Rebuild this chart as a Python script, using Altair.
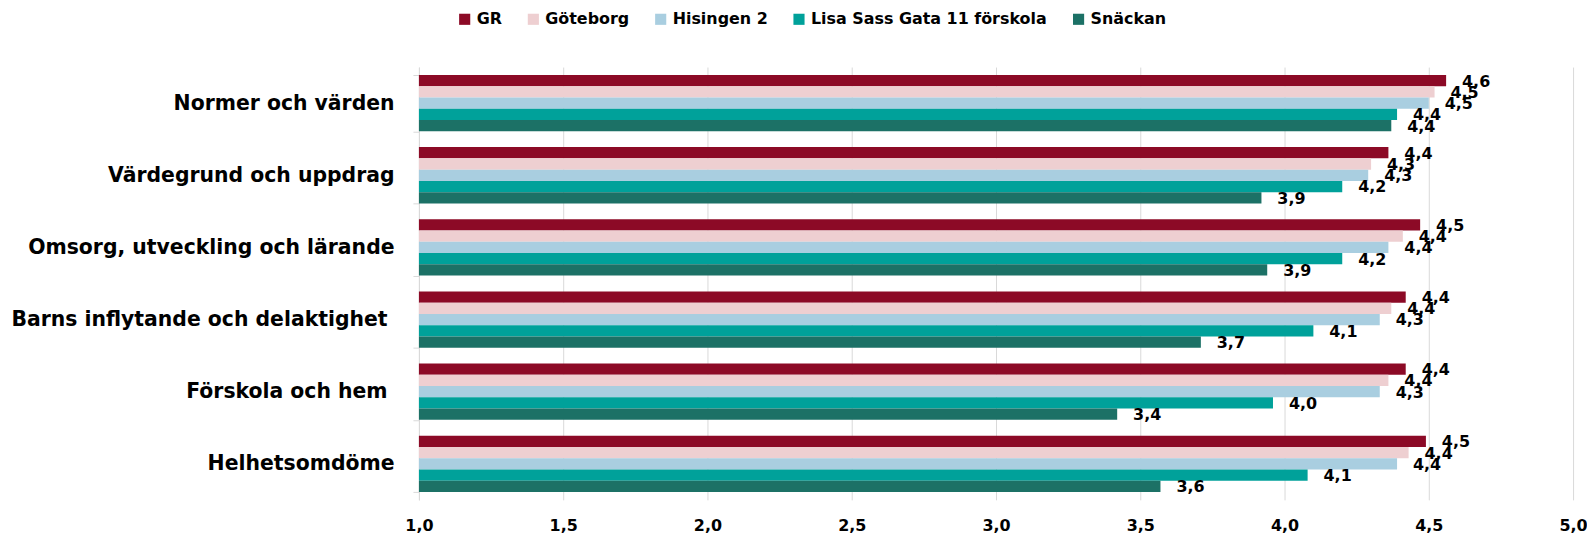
import altair as alt
import pandas as pd

categories = [
    "Normer och värden",
    "Värdegrund och uppdrag",
    "Omsorg, utveckling och lärande",
    "Barns inflytande och delaktighet",
    "Förskola och hem",
    "Helhetsomdöme",
]
# categories whose label carries a trailing space in the source (rendered a bit further left)
trailing_space = ["Barns inflytande och delaktighet", "Förskola och hem"]

series = ["GR", "Göteborg", "Hisingen 2", "Lisa Sass Gata 11 förskola", "Snäckan"]
colors = ["#8C0A26", "#EECFD1", "#A9CEE0", "#00A19A", "#1C7166"]

gr = [4.56, 4.36, 4.47, 4.42, 4.42, 4.49]
goteborg = [4.52, 4.30, 4.41, 4.37, 4.36, 4.43]
hisingen = [4.50, 4.29, 4.36, 4.33, 4.33, 4.39]
lisa = [4.39, 4.20, 4.20, 4.10, 3.96, 4.08]
snackan = [4.37, 3.92, 3.94, 3.71, 3.42, 3.57]

values = [gr, goteborg, hisingen, lisa, snackan]
rows = []
for s, vals in zip(series, values):
    for c, v in zip(categories, vals):
        rows.append({"category": c, "series": s, "value": v})
df = pd.DataFrame(rows)

FONT = "DejaVu Sans"

base = alt.Chart(df).transform_calculate(
    label="replace(format(datum.value, '.1f'), '.', ',')"
)

pad_test = " || ".join("datum.value === '%s'" % c for c in trailing_space)

y_enc = alt.Y(
    "category:N",
    sort=categories,
    scale=alt.Scale(paddingInner=0.22, paddingOuter=0.11),
    axis=alt.Axis(
        title=None,
        tickBand="extent",
        tickSize=6,
        tickColor="#D9D9D9",
        domainColor="#D9D9D9",
        labelFont=FONT,
        labelFontSize=20.5,
        labelFontWeight="bold",
        labelColor="#000000",
        labelPadding={"condition": {"test": pad_test, "value": 26}, "value": 19},
        labelLimit=500,
        grid=False,
    ),
)
yoff = alt.YOffset("series:N", sort=series)

bars = base.mark_bar(cornerRadius=0).encode(
    x=alt.X(
        "value:Q",
        scale=alt.Scale(domain=[1, 5], zero=False, nice=False),
        axis=alt.Axis(
            title=None,
            values=[1, 1.5, 2, 2.5, 3, 3.5, 4, 4.5, 5],
            labelExpr="replace(format(datum.value, '.1f'), '.', ',')",
            domain=False,
            ticks=False,
            grid=True,
            gridColor="#D9D9D9",
            labelFont=FONT,
            labelFontSize=16,
            labelFontWeight="bold",
            labelColor="#000000",
            labelPadding=18,
            labelFlush=False,
        ),
    ),
    x2=alt.datum(1),
    y=y_enc,
    yOffset=yoff,
    color=alt.Color(
        "series:N",
        sort=series,
        scale=alt.Scale(domain=series, range=colors),
        legend=alt.Legend(
            title=None,
            orient="none",
            legendX=38,
            legendY=-56,
            direction="horizontal",
            symbolType="square",
            symbolSize=125,
            symbolStrokeWidth=0,
            labelFont=FONT,
            labelFontSize=16,
            labelFontWeight="bold",
            labelColor="#000000",
            labelOffset=4,
            labelLimit=0,
            columnPadding=23,
            padding=0,
        ),
    ),
)

texts = base.mark_text(
    align="left", baseline="middle", dx=16, dy=1, font=FONT, fontSize=16,
    fontWeight="bold", color="#000000"
).encode(
    x=alt.X("value:Q"),
    y=alt.Y("category:N", sort=categories),
    yOffset=yoff,
    text="label:N",
)

chart = (
    alt.layer(bars, texts)
    .properties(
        width=1160,
        height=435,
        padding={"left": 413, "top": 58, "right": 14, "bottom": 40},
        autosize=alt.AutoSizeParams(type="none"),
    )
    .configure_view(stroke=None)
)

chart.save("out.html", embed_options={"renderer": "svg", "actions": False})
